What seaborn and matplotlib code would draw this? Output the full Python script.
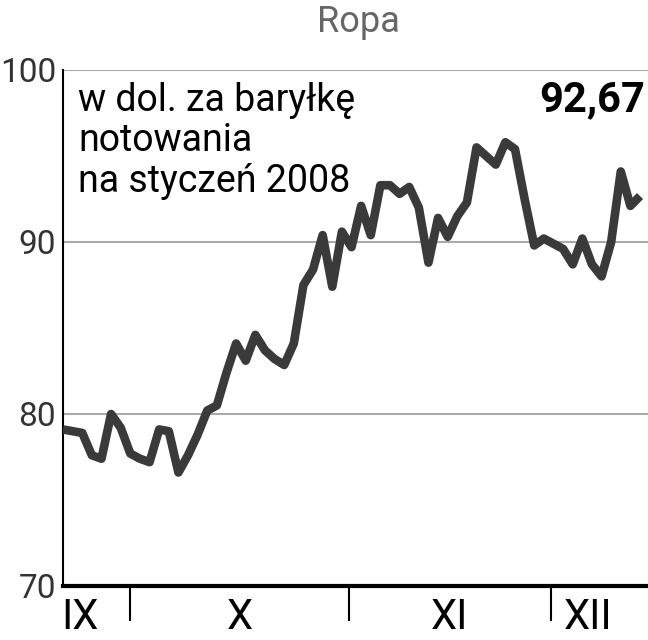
import numpy as np
import pandas as pd
import matplotlib
matplotlib.use("Agg")
from matplotlib import pyplot as plt
import seaborn as sns

# notowania ropy (kontrakt styczeń 2008), kolejne sesje IX-XII 2007
prices = [79.1, 79.0, 78.9, 77.6, 77.4, 80.0, 79.2, 77.7, 77.4, 77.2,
          79.1, 79.0, 76.6, 77.6, 78.8, 80.2, 80.5, 82.4, 84.1, 83.1,
          84.6, 83.7, 83.2, 82.85, 84.1, 87.5, 88.4, 90.4, 87.4, 90.6,
          89.7, 92.1, 90.4, 93.3, 93.3, 92.8, 93.2, 92.0, 88.8, 91.4,
          90.3, 91.5, 92.3, 95.5, 95.0, 94.5, 95.8, 95.4, 92.5, 89.8,
          90.2, 89.9, 89.6, 88.7, 90.2, 88.7, 88.0, 90.0, 94.1, 92.1,
          92.67]
session = list(range(len(prices)))

month_labels = ["IX", "X", "XI", "XII"]
month_label_pos = [1.8, 18.4, 40.2, 54.6]
month_bounds = [6.95, 29.7, 50.7]
y_ticks = [70, 80, 90, 100]
last_value = "92,67"

df = pd.DataFrame({"sesja": session, "cena": prices})

sns.set_style("white")
plt.rcParams['font.family'] = ['Roboto', 'DejaVu Sans']

fig = plt.figure(figsize=(6.48, 6.4), dpi=100)
ax = fig.add_axes([63 / 648, 1 - 586 / 640, 1 - 63 / 648, (586 - 70) / 640])

for v in y_ticks[1:]:
    ax.axhline(v, color="#aaaaaa", lw=1.5, zorder=1)

sns.lineplot(data=df, x="sesja", y="cena", ax=ax, color="#3a3a3a", lw=6.2,
             solid_joinstyle="round", solid_capstyle="butt", zorder=3)

ax.set_xlim(0, 60.83)
ax.set_ylim(70, 100)
ax.set_xlabel("")
ax.set_ylabel("")

for s in ["top", "right"]:
    ax.spines[s].set_visible(False)
ax.spines["left"].set_color("black")
ax.spines["left"].set_linewidth(1.5)
ax.spines["bottom"].set_color("black")
ax.spines["bottom"].set_linewidth(3)

ax.set_yticks(y_ticks)
ax.set_yticklabels([str(v) for v in y_ticks])
ax.tick_params(axis="y", length=0, pad=5, labelsize=24, labelcolor="#333333")

ax.set_xticks(month_bounds)
ax.set_xticklabels([])
ax.tick_params(axis="x", which="major", length=25, width=1.5, color="black",
               direction="out", bottom=True)
ax.set_xticks(month_label_pos, minor=True)
ax.set_xticklabels(month_labels, minor=True)
ax.tick_params(axis="x", which="minor", length=0, pad=8, labelsize=30,
               labelcolor="black")

fig.text(358 / 648, 1 - 22 / 640, "Ropa", ha="center", va="center",
         fontsize=26, color="#666666")
fig.text(78 / 648, 1 - 82 / 640, "w dol. za baryłkę\nnotowania\nna styczeń 2008",
         ha="left", va="top", fontsize=27, color="black", linespacing=1.12)
fig.text(645 / 648, 1 - 100 / 640, last_value, ha="right", va="center",
         fontsize=30, fontweight="bold", color="black")

fig.savefig("out.png", dpi=100)
